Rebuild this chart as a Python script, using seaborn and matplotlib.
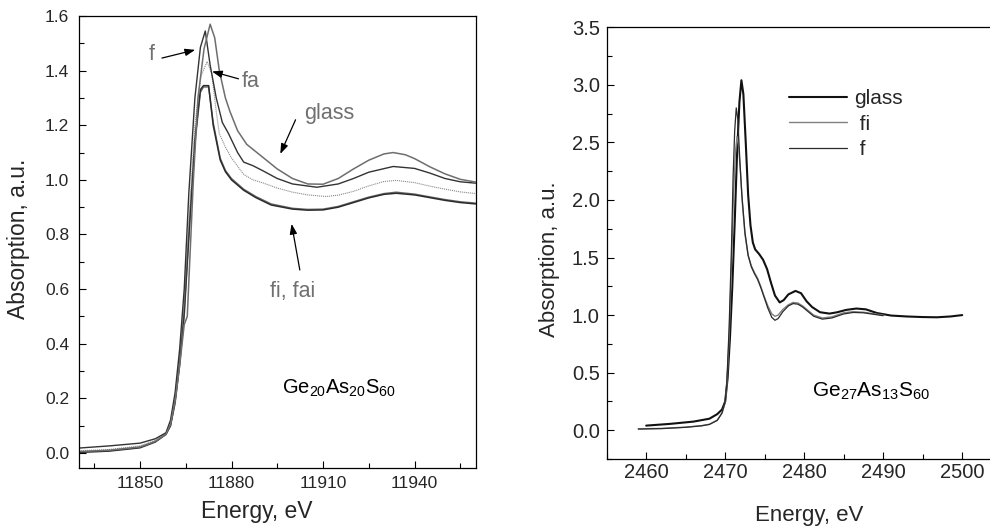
import numpy as np
import pandas as pd
import matplotlib
matplotlib.use("Agg")
import matplotlib.pyplot as plt
import seaborn as sns
from matplotlib.ticker import MultipleLocator

# ---------------- data: Ge K-edge (left panel) ----------------
glass_E = [11830, 11840, 11850, 11855, 11858.5, 11860, 11861.5, 11863, 11864.5, 11865.5,
           11866.3, 11867.5, 11869, 11871, 11873, 11874.5, 11876, 11878, 11879.5, 11882,
           11885, 11890, 11895, 11900, 11905, 11910, 11915, 11920, 11925, 11930, 11933,
           11937, 11940, 11945, 11950, 11955, 11960]
glass_A = [0.005, 0.010, 0.022, 0.042, 0.068, 0.105, 0.19, 0.32, 0.47, 0.50,
           0.70, 1.00, 1.30, 1.48, 1.57, 1.52, 1.40, 1.30, 1.25, 1.18,
           1.13, 1.085, 1.04, 1.005, 0.985, 0.984, 1.005, 1.04, 1.072, 1.095, 1.100,
           1.092, 1.078, 1.048, 1.022, 1.002, 0.992]

f_E = [11830, 11840, 11850, 11855, 11858.5, 11860, 11861.5, 11863, 11864.5, 11866,
       11868, 11869.8, 11871.4, 11873, 11875, 11877, 11879, 11882, 11884, 11887,
       11890, 11895, 11900, 11908, 11915, 11920, 11925, 11933, 11940, 11945, 11950,
       11955, 11960]
f_A = [0.018, 0.026, 0.036, 0.052, 0.074, 0.12, 0.22, 0.38, 0.60, 0.95,
       1.30, 1.485, 1.545, 1.42, 1.30, 1.21, 1.17, 1.10, 1.065, 1.052,
       1.035, 1.005, 0.985, 0.973, 0.985, 1.005, 1.028, 1.049, 1.042, 1.025, 1.005,
       0.993, 0.988]

fa_E = [11830, 11840, 11850, 11855, 11858.5, 11860, 11861.5, 11863, 11864.5, 11866,
        11868, 11870, 11872, 11873.5, 11875, 11876, 11878, 11880, 11884, 11887,
        11890, 11895, 11900, 11905, 11911, 11915, 11920, 11925, 11930, 11934, 11940,
        11945, 11950, 11955, 11960]
fa_A = [0.008, 0.013, 0.026, 0.046, 0.070, 0.11, 0.21, 0.36, 0.55, 0.85,
        1.20, 1.38, 1.433, 1.39, 1.25, 1.17, 1.12, 1.08, 1.02, 1.0,
        0.99, 0.97, 0.955, 0.945, 0.939, 0.944, 0.958, 0.978, 0.994, 0.998, 0.99,
        0.977, 0.966, 0.956, 0.950]

fi_E = [11830, 11840, 11850, 11855, 11858.5, 11860, 11861.5, 11863, 11864.5, 11866,
        11868, 11869.8, 11870.8, 11872.5, 11874, 11876.3, 11878, 11880, 11884, 11888,
        11893, 11900, 11905, 11910, 11915, 11920, 11925, 11930, 11934, 11940, 11945,
        11950, 11955, 11960]
fi_A = [0.002, 0.007, 0.019, 0.040, 0.068, 0.10, 0.19, 0.33, 0.52, 0.80,
        1.15, 1.33, 1.345, 1.345, 1.20, 1.073, 1.03, 1.0, 0.962, 0.935,
        0.908, 0.893, 0.889, 0.890, 0.900, 0.917, 0.934, 0.947, 0.951, 0.945, 0.935,
        0.925, 0.917, 0.912]

fai_E = fi_E
fai_A = [0.004, 0.009, 0.021, 0.042, 0.069, 0.10, 0.18, 0.32, 0.50, 0.78,
         1.13, 1.32, 1.34, 1.34, 1.21, 1.08, 1.035, 1.005, 0.966, 0.939,
         0.912, 0.896, 0.892, 0.893, 0.903, 0.920, 0.937, 0.950, 0.955, 0.948, 0.938,
         0.928, 0.920, 0.915]

# ---------------- data: S K-edge (right panel) ----------------
sglass_E = [2460, 2463, 2466, 2468, 2469, 2469.6, 2470, 2470.3, 2470.6, 2470.9,
            2471.2, 2471.5, 2471.8, 2472.05, 2472.3, 2472.6, 2472.9, 2473.2, 2473.5, 2473.8,
            2474.3, 2474.8, 2475.3, 2475.8, 2476.3, 2476.9, 2477.4, 2478.0, 2478.9, 2479.6,
            2480.3, 2481, 2482, 2483.2, 2484.2, 2485.3, 2486.6, 2487.8, 2489.2, 2491,
            2493, 2495, 2496.8, 2498.5, 2500]
sglass_A = [0.04, 0.055, 0.075, 0.10, 0.14, 0.18, 0.25, 0.45, 0.80, 1.25,
            1.80, 2.40, 2.85, 3.04, 2.92, 2.50, 2.05, 1.78, 1.63, 1.57,
            1.53, 1.48, 1.40, 1.28, 1.17, 1.11, 1.13, 1.18, 1.21, 1.19,
            1.12, 1.07, 1.025, 1.013, 1.025, 1.045, 1.057, 1.05, 1.018, 0.996,
            0.988, 0.983, 0.981, 0.988, 1.0]

sf_E = [2459, 2462, 2465, 2467, 2468, 2469, 2469.6, 2470, 2470.2, 2470.5,
        2470.8, 2471.0, 2471.2, 2471.4, 2471.6, 2471.85, 2472.1, 2472.5, 2472.9, 2473.3,
        2473.7, 2474.1, 2474.5, 2474.9, 2475.4, 2475.9, 2476.3, 2476.7, 2477.3, 2478.0,
        2478.6, 2479.2, 2479.8, 2480.5, 2481.2, 2482.3, 2483.5, 2485, 2486.2, 2487.5,
        2489, 2490]
sf_A = [0.01, 0.014, 0.025, 0.038, 0.05, 0.085, 0.15, 0.25, 0.40, 0.90,
        1.60, 2.20, 2.60, 2.80, 2.70, 2.35, 2.05, 1.72, 1.52, 1.42,
        1.36, 1.31, 1.24, 1.16, 1.06, 0.98, 0.955, 0.97, 1.03, 1.08,
        1.10, 1.095, 1.07, 1.03, 0.99, 0.965, 0.975, 1.01, 1.023, 1.02,
        1.005, 0.995]

sfi_E = [2459, 2462, 2465, 2467, 2468, 2469, 2469.6, 2470, 2470.2, 2470.5,
         2470.8, 2471.05, 2471.3, 2471.5, 2471.7, 2471.95, 2472.2, 2472.5, 2472.9, 2473.3,
         2473.7, 2474.1, 2474.5, 2474.9, 2475.4, 2475.9, 2476.3, 2476.7, 2477.3, 2478.0,
         2478.6, 2479.2, 2479.8, 2480.5, 2481.2, 2482.3, 2483.5, 2485, 2486.2, 2487.5,
         2489, 2490]
sfi_A = [0.012, 0.016, 0.027, 0.04, 0.052, 0.088, 0.15, 0.24, 0.38, 0.82,
         1.45, 2.05, 2.42, 2.55, 2.47, 2.22, 1.95, 1.70, 1.52, 1.43,
         1.37, 1.32, 1.25, 1.17, 1.08, 1.01, 0.99, 1.0, 1.05, 1.09,
         1.11, 1.105, 1.08, 1.04, 1.00, 0.975, 0.985, 1.02, 1.03, 1.025,
         1.01, 1.0]

left_xticks = [11850, 11880, 11910, 11940]
right_xticks = [2460, 2470, 2480, 2490, 2500]

# ---------------- style ----------------
sns.set_theme(style="ticks")
plt.rcParams["font.family"] = ["Liberation Sans", "DejaVu Sans"]
plt.rcParams["mathtext.fontset"] = "custom"
plt.rcParams["mathtext.rm"] = "Liberation Sans"
plt.rcParams["axes.linewidth"] = 0.9

W, H = 990, 526
fig = plt.figure(figsize=(9.9, 5.26), dpi=100)

def rect(l, t, r, b):
    return [l / W, 1 - b / H, (r - l) / W, (b - t) / H]

axL = fig.add_axes(rect(79, 16, 475.5, 468))
axR = fig.add_axes(rect(606.7, 27.3, 1001.7, 459))

def draw(ax, E, A, **kw):
    df = pd.DataFrame({"E": E, "A": A})
    sns.lineplot(data=df, x="E", y="A", ax=ax, sort=False, estimator=None, **kw)

# left panel curves
draw(axL, fai_E, fai_A, color="#6a6a6a", lw=1.0)
draw(axL, fi_E, fi_A, color="#2b2b2b", lw=1.1)
draw(axL, fa_E, fa_A, color="#8c8c8c", lw=0.8, linestyle=(0, (1, 0.8)))
draw(axL, f_E, f_A, color="#333333", lw=1.0)
draw(axL, glass_E, glass_A, color="#6e6e6e", lw=1.1)

axL.set_xlim(11830, 11960)
axL.set_ylim(-0.055, 1.6)
axL.set_xticks(left_xticks)
axL.xaxis.set_minor_locator(MultipleLocator(15))
axL.yaxis.set_major_locator(MultipleLocator(0.2))
axL.yaxis.set_minor_locator(MultipleLocator(0.1))
axL.yaxis.set_major_formatter(matplotlib.ticker.FormatStrFormatter("%.1f"))
axL.tick_params(which="both", direction="in", color="black", labelsize=12.5)
axL.tick_params(which="major", length=5, width=0.8)
axL.tick_params(which="minor", length=3.5, width=0.8)
axL.tick_params(axis="y", pad=7)
axL.tick_params(axis="x", pad=6)
for s in axL.spines.values():
    s.set_color("black")

axL.set_xlabel("Energy, eV", fontsize=16.5, va="center")
axL.set_ylabel("Absorption, a.u.", fontsize=16.5, va="center", ha="center")
axL.xaxis.set_label_coords(256.7 / W, 1 - 511.7 / H, transform=fig.transFigure)
axL.yaxis.set_label_coords(19 / W, 1 - 239 / H, transform=fig.transFigure)

gray_txt = "#707070"
arrow_kw = dict(arrowstyle="-|>,head_length=0.5,head_width=0.18", color="black", lw=0.9,
                shrinkA=0, shrinkB=0)
# text labels (E, A positions)
axL.text(11853.9, 1.458, "f", color=gray_txt, fontsize=15.5, ha="center", va="center")
axL.annotate("", xy=(11868.1, 1.476), xytext=(11857.2, 1.446), arrowprops=arrow_kw)
axL.text(11886.2, 1.36, "fa", color=gray_txt, fontsize=15.5, ha="center", va="center")
axL.annotate("", xy=(11873.6, 1.397), xytext=(11882.3, 1.37), arrowprops=arrow_kw)
axL.text(11912.0, 1.244, "glass", color=gray_txt, fontsize=15.5, ha="center", va="center")
axL.annotate("", xy=(11896.0, 1.095), xytext=(11901.0, 1.22), arrowprops=arrow_kw)
axL.text(11899.9, 0.591, "fi, fai", color=gray_txt, fontsize=15.5, ha="center", va="center")
axL.annotate("", xy=(11899.7, 0.839), xytext=(11902.4, 0.67), arrowprops=arrow_kw)
axL.text(11915.2, 0.237, r"$\mathregular{Ge_{20}As_{20}S_{60}}$", color="black",
         fontsize=14.5, ha="center", va="center")

# right panel curves
draw(axR, sglass_E, sglass_A, color="#111111", lw=1.5, label="glass")
draw(axR, sfi_E, sfi_A, color="#808080", lw=1.0, label=" fi")
draw(axR, sf_E, sf_A, color="#2a2a2a", lw=0.9, label=" f")

axR.set_xlim(2455, 2505)
axR.set_ylim(-0.25, 3.5)
axR.set_xticks(right_xticks)
axR.xaxis.set_minor_locator(MultipleLocator(5))
axR.yaxis.set_major_locator(MultipleLocator(0.5))
axR.yaxis.set_minor_locator(MultipleLocator(0.25))
axR.yaxis.set_major_formatter(matplotlib.ticker.FormatStrFormatter("%.1f"))
axR.tick_params(which="both", direction="in", color="black", labelsize=14.5)
axR.tick_params(which="major", length=5, width=0.8)
axR.tick_params(which="minor", length=3.5, width=0.8)
axR.tick_params(axis="y", pad=5)
axR.tick_params(axis="x", pad=3)
for s in axR.spines.values():
    s.set_color("black")

axR.set_xlabel("Energy, eV", fontsize=16, va="center")
axR.set_ylabel("Absorption, a.u.", fontsize=16, va="center", ha="center")
axR.xaxis.set_label_coords(809 / W, 1 - 515 / H, transform=fig.transFigure)
axR.yaxis.set_label_coords(549 / W, 1 - 259 / H, transform=fig.transFigure)

fs_leg = 15
axR.legend(loc="upper left", bbox_to_anchor=(789.3 / W, 1 - 89 / H),
           bbox_transform=fig.transFigure, frameon=False, fontsize=fs_leg,
           borderpad=0, borderaxespad=0, handlelength=2.75, handletextpad=0.36,
           labelspacing=0.32)
axR.text(2488.5, 0.337, r"$\mathregular{Ge_{27}As_{13}S_{60}}$", color="black",
         fontsize=15, ha="center", va="center")

fig.savefig("out.png", dpi=100)
